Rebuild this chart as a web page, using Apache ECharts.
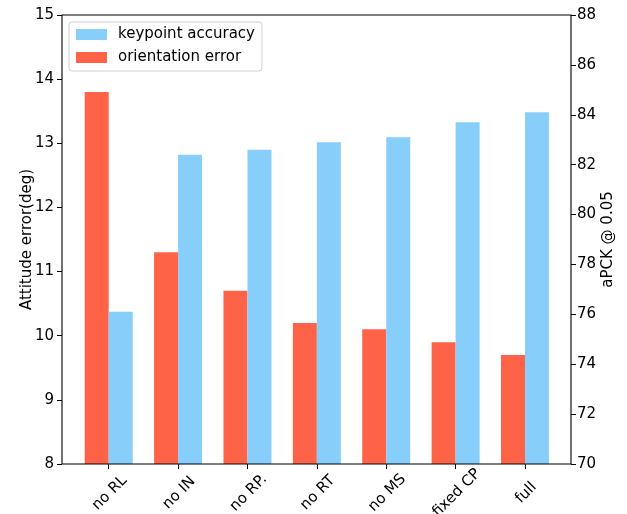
<!DOCTYPE html>
<html>
<head>
<meta charset="utf-8">
<script src="https://cdn.jsdelivr.net/npm/echarts@6/dist/echarts.min.js"></script>
<style>
  html, body { margin: 0; padding: 0; background: #fff; }
  #chart { width: 627px; height: 514px; }
</style>
</head>
<body>
<div id="chart"></div>
<script>
// Ablation variants along the x axis
const categories = ['no RL', 'no IN', 'no RP.', 'no RT', 'no MS', 'fixed CP', 'full'];
// Attitude (orientation) error in degrees, left axis
const orientationError = [13.8, 11.3, 10.7, 10.2, 10.1, 9.9, 9.7];
// Keypoint accuracy aPCK @ 0.05, right axis
const keypointAccuracy = [76.1, 82.4, 82.6, 82.9, 83.1, 83.7, 84.1];
// Axis ranges
const leftRange = { min: 8, max: 15, interval: 1 };
const rightRange = { min: 70, max: 88, interval: 2 };

const FONT = 'DejaVu Sans';
const chart = echarts.init(document.getElementById('chart'), null, { renderer: 'canvas' });

// Frame of the plotting area (spines)
const frame = { left: 62, top: 15, right: 571, bottom: 464 };

chart.setOption({
  animation: false,
  backgroundColor: '#fff',
  textStyle: { fontFamily: FONT },
  grid: { left: 74, right: 67.3, top: 15, bottom: 50, containLabel: false, outerBoundsMode: 'none' },
  legend: {
    orient: 'vertical',
    left: 69, top: 22,
    data: ['keypoint accuracy', 'orientation error'],
    icon: 'rect',
    itemWidth: 31, itemHeight: 11, itemGap: 8,
    padding: [5, 7, 6, 7],
    backgroundColor: 'rgba(255,255,255,0.8)',
    borderColor: '#d0d0d0', borderWidth: 1, borderRadius: 3,
    textStyle: { fontFamily: FONT, fontSize: 15, color: '#000', padding: [0, 0, 0, 6], lineHeight: 15 }
  },
  xAxis: {
    type: 'category',
    data: categories,
    axisLine: { show: false },
    axisTick: { show: true, alignWithLabel: true, length: 5, lineStyle: { color: '#000', width: 1 } },
    axisLabel: {
      rotate: 45, align: 'center', verticalAlign: 'middle', margin: 30,
      fontFamily: FONT, fontSize: 15, color: '#000', interval: 0,
      padding: [0, 0, 0, 3]
    },
    splitLine: { show: false }
  },
  yAxis: [
    {
      type: 'value', position: 'left', offset: 12,
      min: leftRange.min, max: leftRange.max, interval: leftRange.interval,
      name: 'Attitude error(deg)', nameLocation: 'middle', nameGap: 27, nameRotate: 90,
      nameMoveOverlap: false,
      nameTextStyle: { fontFamily: FONT, fontSize: 15, color: '#000' },
      axisLine: { show: false },
      axisTick: { show: true, length: 5, lineStyle: { color: '#000', width: 1 } },
      axisLabel: { fontFamily: FONT, fontSize: 15, color: '#000', margin: 8 },
      splitLine: { show: false }
    },
    {
      type: 'value', position: 'right', offset: 11.3,
      min: rightRange.min, max: rightRange.max, interval: rightRange.interval,
      name: 'aPCK @ 0.05', nameLocation: 'middle', nameGap: 30, nameRotate: 90,
      nameMoveOverlap: false,
      nameTextStyle: { fontFamily: FONT, fontSize: 15, color: '#000' },
      axisLine: { show: false },
      axisTick: { show: true, length: 5, lineStyle: { color: '#000', width: 1 } },
      axisLabel: { fontFamily: FONT, fontSize: 15, color: '#000', margin: 6 },
      splitLine: { show: false }
    }
  ],
  series: [
    {
      name: 'orientation error', type: 'bar', yAxisIndex: 0,
      data: orientationError, barWidth: 24, barGap: '0%',
      itemStyle: { color: '#FF6347' }
    },
    {
      name: 'keypoint accuracy', type: 'bar', yAxisIndex: 1,
      data: keypointAccuracy, barWidth: 24, barGap: '0%',
      itemStyle: { color: '#87CEFA' }
    }
  ],
  graphic: [
    {
      type: 'rect', z: 100, silent: true,
      shape: { x: frame.left, y: frame.top, width: frame.right - frame.left, height: frame.bottom - frame.top },
      style: { fill: null, stroke: '#000', lineWidth: 1.1 }
    }
  ]
});
</script>
</body>
</html>
